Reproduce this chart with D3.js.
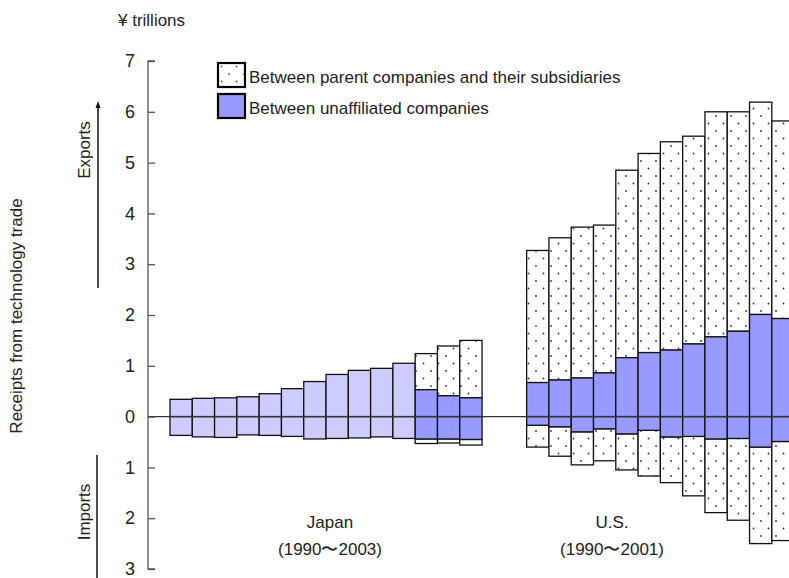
<!DOCTYPE html>
<html>
<head>
<meta charset="utf-8">
<script src="https://cdn.jsdelivr.net/npm/d3@7"></script>
<style>
  body { margin: 0; background: #fff; }
  svg text { font-family: "Liberation Sans", Arial, sans-serif; fill: #222; }
</style>
</head>
<body>
<div id="vis"></div>
<script>
// Japan 1990-2003, US 1990-2001 (¥ trillions)
const japanYears = ['1990','1991','1992','1993','1994','1995','1996','1997','1998','1999','2000','2001','2002','2003']
const usYears = ['1990','1991','1992','1993','1994','1995','1996','1997','1998','1999','2000','2001']

// Japan: only totals up to 2000, breakdown from 2001
const japanExportTotal = [0.34, 0.36, 0.37, 0.39, 0.45, 0.55, 0.69, 0.83, 0.91, 0.95, 1.05, 1.24, 1.39, 1.50]
const japanExportUnaffil = [null, null, null, null, null, null, null, null, null, null, null, 0.53, 0.41, 0.37]
const japanImportTotal = [0.37, 0.40, 0.41, 0.36, 0.37, 0.39, 0.44, 0.43, 0.42, 0.40, 0.43, 0.53, 0.52, 0.56]
const japanImportUnaffil = [null, null, null, null, null, null, null, null, null, null, null, 0.44, 0.44, 0.45]

const usExportTotal = [3.27, 3.52, 3.73, 3.77, 4.85, 5.18, 5.41, 5.52, 6.00, 6.00, 6.19, 5.82]
const usExportUnaffil = [0.67, 0.72, 0.76, 0.86, 1.16, 1.26, 1.31, 1.43, 1.57, 1.68, 2.01, 1.93]
const usImportTotal = [0.60, 0.78, 0.95, 0.87, 1.05, 1.17, 1.30, 1.56, 1.89, 2.04, 2.50, 2.44]
const usImportUnaffil = [0.17, 0.20, 0.30, 0.24, 0.34, 0.27, 0.40, 0.39, 0.44, 0.43, 0.60, 0.49]

const yTicks = [-3, -2, -1, 0, 1, 2, 3, 4, 5, 6, 7]
const legendLabels = ['Between parent companies and their subsidiaries', 'Between unaffiliated companies']

const width = 789
const height = 578
const lightFill = '#ccccff'
const blueFill = '#9999ff'
const fontSize = 17

const svg = d3.select('#vis').append('svg')
  .attr('width', width)
  .attr('height', height)

// dot patterns (blue dots for early years, dark dots later)
const defs = svg.append('defs')
function dotPattern(id, color) {
  const p = defs.append('pattern')
    .attr('id', id)
    .attr('patternUnits', 'userSpaceOnUse')
    .attr('width', 15).attr('height', 15)
  p.append('rect').attr('width', 15).attr('height', 15).attr('fill', '#fff')
  p.append('circle').attr('cx', 3.5).attr('cy', 3.5).attr('r', 0.9).attr('fill', color)
  p.append('circle').attr('cx', 11).attr('cy', 11).attr('r', 0.9).attr('fill', color)
}
dotPattern('dotsBlue', '#2a2aa0')
dotPattern('dotsDark', '#333')
dotPattern('dotsLegend', '#555')

// build rows
const rows = []
japanYears.forEach((yr, i) => rows.push({
  key: 'JP' + yr, country: 'JP', expT: japanExportTotal[i], expU: japanExportUnaffil[i],
  impT: japanImportTotal[i], impU: japanImportUnaffil[i], blueDots: yr === '2001'
}))
const slots = rows.map(r => r.key).concat(['gap1', 'gap2'])
usYears.forEach((yr, i) => {
  rows.push({
    key: 'US' + yr, country: 'US', expT: usExportTotal[i], expU: usExportUnaffil[i],
    impT: usImportTotal[i], impU: usImportUnaffil[i], blueDots: +yr <= 1997
  })
  slots.push('US' + yr)
})

// scales
const x = d3.scaleBand()
  .domain(slots)
  .range([170, 170 + slots.length * 22.29])
  .padding(0)

const y = d3.scaleLinear()
  .domain([-3, 7])
  .range([569, 61])

// bars
const bars = svg.append('g').attr('class', 'bars')
  .attr('stroke', '#111').attr('stroke-width', 1.3)

function seg(r, v0, v1, fill) {
  bars.append('rect')
    .attr('x', x(r.key))
    .attr('width', x.bandwidth())
    .attr('y', y(Math.max(v0, v1)))
    .attr('height', Math.abs(y(v0) - y(v1)))
    .attr('fill', fill)
}

rows.forEach(r => {
  const dots = r.blueDots ? 'url(#dotsBlue)' : 'url(#dotsDark)'
  if (r.expU == null) {
    seg(r, 0, r.expT, lightFill)
    seg(r, 0, -r.impT, lightFill)
  } else {
    seg(r, r.expU, r.expT, dots)
    seg(r, 0, r.expU, blueFill)
    seg(r, -r.impU, -r.impT, dots)
    seg(r, 0, -r.impU, blueFill)
  }
})

// zero line
svg.append('line')
  .attr('x1', 148).attr('x2', width)
  .attr('y1', y(0)).attr('y2', y(0))
  .attr('stroke', '#333').attr('stroke-width', 1.2)

// y axis
const yAxis = d3.axisRight(y)
  .tickValues(yTicks)
  .tickSize(7)
  .tickFormat(d => Math.abs(d))
const axisG = svg.append('g')
  .attr('transform', 'translate(148,0)')
  .call(yAxis)
axisG.select('.domain').attr('stroke', '#555').attr('stroke-width', 1.3).attr('d', `M7,${y(7)}H0V${y(-3)}H7`)
axisG.selectAll('.tick line').attr('stroke', '#555').attr('stroke-width', 1.3)
axisG.selectAll('.tick text')
  .attr('x', -13)
  .attr('text-anchor', 'end')
  .attr('font-size', 18)
  .attr('fill', '#222')

// unit label
svg.append('text')
  .attr('x', 118).attr('y', 26)
  .attr('font-size', fontSize)
  .text('¥ trillions')

// side labels
svg.append('text')
  .attr('transform', `translate(22,${316}) rotate(-90)`)
  .attr('text-anchor', 'middle')
  .attr('font-size', fontSize)
  .text('Receipts from technology trade')

svg.append('text')
  .attr('transform', `translate(90,${150}) rotate(-90)`)
  .attr('text-anchor', 'middle')
  .attr('font-size', fontSize)
  .text('Exports')

svg.append('text')
  .attr('transform', `translate(90,${512}) rotate(-90)`)
  .attr('text-anchor', 'middle')
  .attr('font-size', fontSize)
  .text('Imports')

svg.append('line')
  .attr('x1', 98).attr('x2', 98).attr('y1', 288).attr('y2', 106)
  .attr('stroke', '#111').attr('stroke-width', 1.5)
svg.append('path')
  .attr('d', 'M98,101 L95.5,108 L100.5,108 Z')
  .attr('fill', '#111')
svg.append('line')
  .attr('x1', 97).attr('x2', 97).attr('y1', 455).attr('y2', 578)
  .attr('stroke', '#111').attr('stroke-width', 1.5)

// country labels
const groupLabels = [
  { key: 'JP', name: 'Japan', range: '(1990〜2003)' },
  { key: 'US', name: 'U.S.', range: '(1990〜2001)' }
]
groupLabels.forEach(g => {
  const cx = g.key === 'JP' ? 330 : 612
  svg.append('text').attr('x', cx).attr('y', 528)
    .attr('text-anchor', 'middle').attr('font-size', fontSize).text(g.name)
  svg.append('text').attr('x', cx).attr('y', 555)
    .attr('text-anchor', 'middle').attr('font-size', fontSize).text(g.range)
})

// legend
const legend = svg.append('g').attr('transform', 'translate(218,63)')
const legendFills = ['url(#dotsLegend)', blueFill]
legendLabels.forEach((lab, i) => {
  legend.append('rect')
    .attr('x', 0).attr('y', i * 31)
    .attr('width', 27).attr('height', 24)
    .attr('fill', legendFills[i])
    .attr('stroke', '#000').attr('stroke-width', 2.2)
  legend.append('text')
    .attr('x', 31).attr('y', i * 31 + 20)
    .attr('font-size', fontSize)
    .text(lab)
})
</script>
</body>
</html>
